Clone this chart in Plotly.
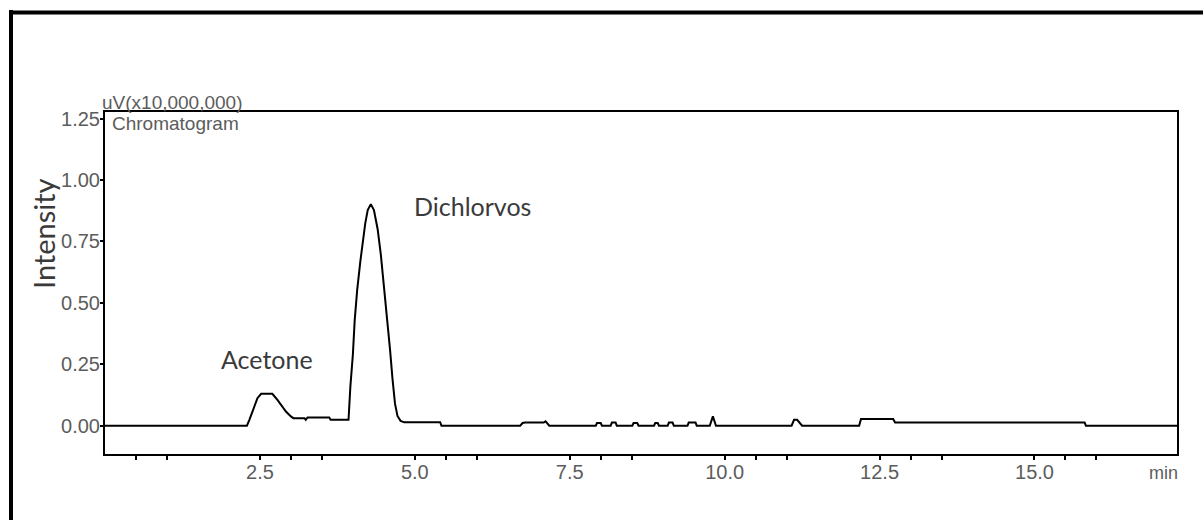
import plotly.graph_objects as go

# Retention time (min) and detector signal (uV x 10,000,000)
time_min = [
    0.0, 2.29, 2.33, 2.37, 2.41, 2.46, 2.52, 2.70, 2.78, 2.84, 2.92, 3.00, 3.04,
    3.22, 3.24, 3.27, 3.62, 3.64, 3.93,
    3.96, 4.00, 4.03, 4.07, 4.12, 4.16, 4.20, 4.24, 4.29, 4.34, 4.40, 4.45,
    4.50, 4.55, 4.60, 4.64, 4.68, 4.72, 4.77, 4.83, 5.41, 5.43,
    6.70, 6.74, 6.78, 7.08, 7.11, 7.17,
    7.92, 7.94, 8.00, 8.02, 8.16, 8.18, 8.24, 8.26,
    8.51, 8.53, 8.59, 8.61, 8.86, 8.88, 8.92, 8.94,
    9.08, 9.10, 9.16, 9.18, 9.40, 9.42, 9.53, 9.55,
    9.76, 9.81, 9.86, 11.08, 11.12, 11.17, 11.25,
    12.17, 12.20, 12.72, 12.75, 15.81, 15.83, 17.3,
]
signal = [
    0.0, 0.0, 0.024, 0.051, 0.079, 0.112, 0.130, 0.130, 0.106, 0.085, 0.058, 0.038, 0.031,
    0.031, 0.024, 0.034, 0.034, 0.024, 0.024,
    0.160, 0.289, 0.431, 0.553, 0.668, 0.756, 0.824, 0.878, 0.902, 0.878, 0.800, 0.700,
    0.580, 0.450, 0.310, 0.190, 0.090, 0.040, 0.020, 0.014, 0.014, 0.0,
    0.0, 0.011, 0.013, 0.013, 0.018, 0.0,
    0.0, 0.011, 0.011, 0.0, 0.0, 0.013, 0.013, 0.0,
    0.0, 0.011, 0.011, 0.0, 0.0, 0.011, 0.011, 0.0,
    0.0, 0.013, 0.013, 0.0, 0.0, 0.013, 0.013, 0.0,
    0.0, 0.038, 0.0, 0.0, 0.024, 0.024, 0.0,
    0.0, 0.027, 0.027, 0.013, 0.013, 0.0, 0.0,
]

x_ticks = [2.5, 5.0, 7.5, 10.0, 12.5, 15.0]
x_tick_labels = ["2.5", "5.0", "7.5", "10.0", "12.5", "15.0"]
x_minor_ticks = [0.5, 1.0, 3.0, 3.5, 5.5, 6.0, 8.0, 8.5, 10.5, 11.0, 13.0, 13.5, 15.5, 16.0]
y_ticks = [0.0, 0.25, 0.50, 0.75, 1.00, 1.25]
y_tick_labels = ["0.00", "0.25", "0.50", "0.75", "1.00", "1.25"]

peak_names = ["Acetone", "Dichlorvos"]

W, H = 1203, 520
L, R, T, B = 105, 1177, 112, 454


def px(xp):
    return (xp - L) / (R - L)


def py(yp):
    return (B - yp) / (B - T)


GREY = "#5c5c5c"
DARK = "#3a3a3a"
tick_font = dict(family="Liberation Sans, Arial", size=20, color=GREY)

fig = go.Figure()
fig.add_trace(go.Scatter(
    x=time_min, y=signal, mode="lines",
    line=dict(color="black", width=2),
    hoverinfo="skip", showlegend=False,
))

fig.update_layout(
    width=W, height=H,
    margin=dict(l=L, r=W - R, t=T, b=H - B, pad=0),
    paper_bgcolor="white", plot_bgcolor="white",
    showlegend=False,
    xaxis=dict(
        range=[0, 17.3], tickmode="array", tickvals=x_ticks, ticktext=x_tick_labels,
        ticks="outside", ticklen=4, tickwidth=1.5, tickcolor="black",
        showline=True, linecolor="black", linewidth=2, mirror=True,
        showgrid=False, zeroline=False, tickfont=tick_font,
        ticklabelstandoff=-5,
        minor=dict(tickmode="array", tickvals=x_minor_ticks, ticks="outside",
                   ticklen=4, tickwidth=1.5, tickcolor="black", showgrid=False),
    ),
    yaxis=dict(
        range=[-0.115, 1.277], tickmode="array", tickvals=y_ticks, ticktext=y_tick_labels,
        ticks="outside", ticklen=3, tickwidth=1.5, tickcolor="black",
        showline=True, linecolor="black", linewidth=2, mirror=True,
        showgrid=False, zeroline=False, tickfont=tick_font,
        ticklabelstandoff=-4,
    ),
)

annotations = [
    dict(text="uV(x10,000,000)", x=px(100), y=py(103), xanchor="left", yanchor="middle",
         font=dict(family="Liberation Sans, Arial", size=19, color=GREY)),
    dict(text="Chromatogram", x=px(110), y=py(123), xanchor="left", yanchor="middle",
         font=dict(family="Liberation Sans, Arial", size=19, color=GREY)),
    dict(text="min", x=px(1163), y=py(473), xanchor="center", yanchor="middle",
         font=dict(family="Liberation Sans, Arial", size=18, color=GREY)),
    dict(text="Intensity", x=px(43), y=py(234), xanchor="center", yanchor="middle",
         textangle=-90, font=dict(family="Lato", size=29, color=DARK)),
    dict(text=peak_names[0], x=px(267), y=py(359), xanchor="center", yanchor="middle",
         font=dict(family="Lato", size=25, color=DARK)),
    dict(text=peak_names[1], x=px(472), y=py(206), xanchor="center", yanchor="middle",
         font=dict(family="Lato", size=25, color=DARK)),
]
for a in annotations:
    a.update(xref="paper", yref="paper", showarrow=False)
fig.update_layout(annotations=annotations)

# Outer frame: thick rules along the left and top edges of the page
fig.add_shape(type="line", xref="paper", yref="paper",
              x0=px(11), x1=px(11), y0=py(10), y1=py(522),
              line=dict(color="black", width=4))
fig.add_shape(type="line", xref="paper", yref="paper",
              x0=px(9), x1=px(1205), y0=py(12.5), y1=py(12.5),
              line=dict(color="black", width=4))

fig.write_html("out.html")
